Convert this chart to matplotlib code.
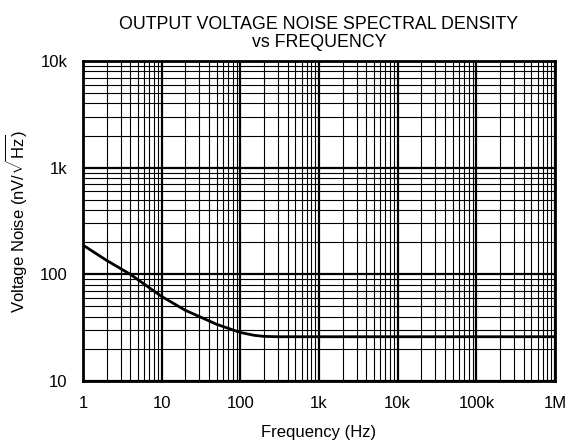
import numpy as np
import matplotlib
matplotlib.use('Agg')
import matplotlib.pyplot as plt
from matplotlib.ticker import LogLocator, NullFormatter

plt.rcParams['font.family'] = ['Liberation Sans', 'DejaVu Sans']
plt.rcParams['mathtext.fontset'] = 'custom'
plt.rcParams['mathtext.rm'] = 'Liberation Sans'

##### datos
freq = [1, 2, 4, 10, 20, 50, 100, 150, 200, 300, 1e6]
noise = [188, 135, 100, 62, 46, 34, 28.5, 26.8, 26.2, 26, 26]

xticks = [1, 10, 100, 1e3, 1e4, 1e5, 1e6]
xlabels = ['1', '10', '100', '1k', '10k', '100k', '1M']
yticks = [10, 100, 1e3, 1e4]
ylabels = ['10', '100', '1k', '10k']

fig = plt.figure(figsize=(5.71, 4.45), dpi=100)
ax = fig.add_axes([83/571, 64/445, 472/571, 320/445])

ax.plot(freq, noise, 'k', lw=2)
ax.set_xscale('log')
ax.set_yscale('log')
ax.set_xlim(1, 1e6)
ax.set_ylim(10, 1e4)

ax.set_xticks(xticks)
ax.set_xticklabels(xlabels)
ax.set_yticks(yticks)
ax.set_yticklabels(ylabels)
ax.xaxis.set_minor_locator(LogLocator(base=10, subs=np.arange(2, 10)))
ax.yaxis.set_minor_locator(LogLocator(base=10, subs=np.arange(2, 10)))
ax.xaxis.set_minor_formatter(NullFormatter())
ax.yaxis.set_minor_formatter(NullFormatter())

######rejilla
ax.grid(which='major', color='k', lw=1.6)
ax.grid(which='minor', color='k', lw=0.8)
ax.tick_params(which='both', length=0, labelsize=12)
ax.tick_params(axis='x', pad=11)
ax.tick_params(axis='y', pad=11)
for s in ax.spines.values():
    s.set_linewidth(2)

ax.set_xlabel('Frequency (Hz)', fontsize=12, labelpad=10)
ax.set_ylabel(r'Voltage Noise (nV/$\sqrt{\mathrm{Hz}}$)', fontsize=12, labelpad=8)
ax.set_title('OUTPUT VOLTAGE NOISE SPECTRAL DENSITY\nvs FREQUENCY', fontsize=12.8,
             pad=10, linespacing=1.1)

fig.savefig('out.png', dpi=100)
